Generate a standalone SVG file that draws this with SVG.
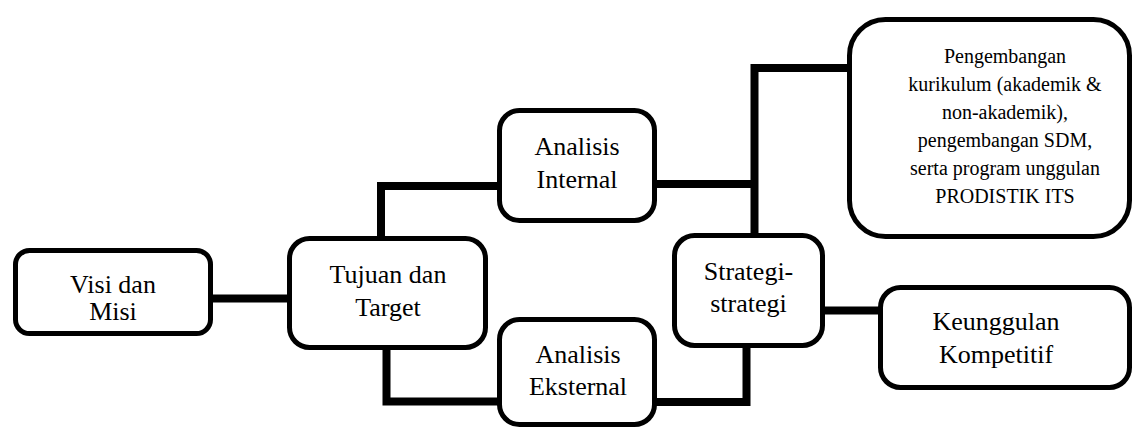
<svg xmlns="http://www.w3.org/2000/svg" width="1132" height="428" viewBox="0 0 1132 428">
<style>
.box{fill:#fff;stroke:#000;stroke-width:5}
.con{fill:none;stroke:#000;stroke-width:8;stroke-linecap:butt;stroke-linejoin:miter}
.t{font-family:"Liberation Serif","Times New Roman",serif;font-size:26px;fill:#000;text-anchor:middle}
.s{font-family:"Liberation Serif","Times New Roman",serif;font-size:20px;fill:#000;text-anchor:middle}
</style>
<rect width="1132" height="428" fill="#fff"/>
<g id="connectors">
<path class="con" d="M213 298.5 H287"/>
<path class="con" d="M381 237 V186 H498"/>
<path class="con" d="M386.5 349 V401.5 H498"/>
<path class="con" d="M656 184 H754.5"/>
<path class="con" d="M754.5 234 V68 H848"/>
<path class="con" d="M746.5 347 V402 H656"/>
<path class="con" d="M824 310.5 H879"/>
</g>
<g id="visi">
<rect class="box" x="15.5" y="250.5" width="195" height="83" rx="14"/>
<text class="t" x="113" y="293">Visi dan</text>
<text class="t" x="113" y="320">Misi</text>
</g>
<g id="tujuan">
<rect class="box" x="289.5" y="238.5" width="196" height="109" rx="20"/>
<text class="t" x="388" y="283">Tujuan dan</text>
<text class="t" x="388" y="316">Target</text>
</g>
<g id="internal">
<rect class="box" x="499.5" y="110.5" width="155" height="110" rx="20"/>
<text class="t" x="577" y="155">Analisis</text>
<text class="t" x="577" y="188">Internal</text>
</g>
<g id="eksternal">
<rect class="box" x="499.5" y="319.5" width="155" height="105" rx="20"/>
<text class="t" x="578" y="363">Analisis</text>
<text class="t" x="578" y="395">Eksternal</text>
</g>
<g id="strategi">
<rect class="box" x="674.5" y="235.5" width="148" height="110" rx="20"/>
<text class="t" x="748.5" y="280">Strategi-</text>
<text class="t" x="748.5" y="312">strategi</text>
</g>
<g id="pengembangan">
<rect class="box" x="849.5" y="19.5" width="280" height="217" rx="36"/>
<text class="s" x="1005" y="63">Pengembangan</text>
<text class="s" x="1005" y="91">kurikulum (akademik &amp;</text>
<text class="s" x="1005" y="119">non-akademik),</text>
<text class="s" x="1005" y="147">pengembangan SDM,</text>
<text class="s" x="1005" y="175">serta program unggulan</text>
<text class="s" x="1005" y="203">PRODISTIK ITS</text>
</g>
<g id="keunggulan">
<rect class="box" x="880.5" y="287.5" width="249" height="100" rx="20"/>
<text class="t" x="996" y="330">Keunggulan</text>
<text class="t" x="996" y="363">Kompetitif</text>
</g>
</svg>
